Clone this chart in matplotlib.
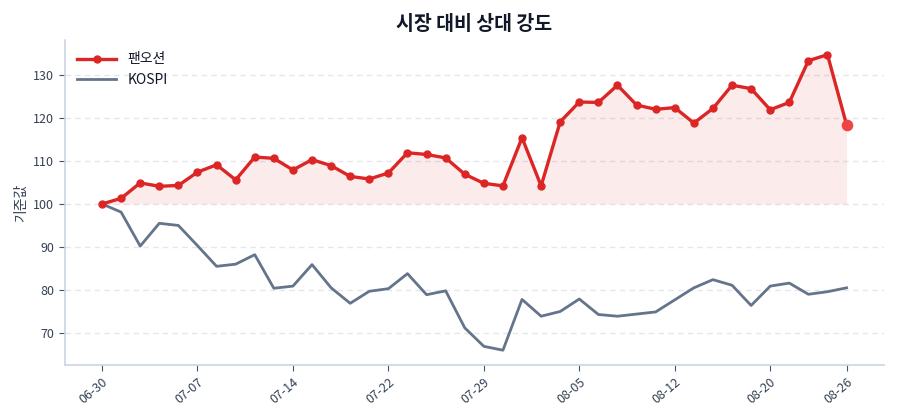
import matplotlib
matplotlib.use("Agg")
import matplotlib.pyplot as plt

plt.rcParams['font.family'] = ['Noto Sans CJK KR', 'DejaVu Sans']

dates = ["06-30", "07-01", "07-02", "07-03", "07-04",
         "07-07", "07-08", "07-09", "07-10", "07-11",
         "07-14", "07-15", "07-16", "07-17", "07-18",
         "07-22", "07-23", "07-24", "07-25", "07-28",
         "07-29", "07-30", "07-31", "08-01", "08-04",
         "08-05", "08-06", "08-07", "08-08", "08-11",
         "08-12", "08-13", "08-14", "08-18", "08-19",
         "08-20", "08-21", "08-22", "08-25", "08-26"]

pan_ocean = [100.0, 101.3, 104.9, 104.1, 104.3, 107.4, 109.1, 105.6, 110.9, 110.6,
             107.9, 110.3, 108.9, 106.4, 105.8, 107.2, 111.9, 111.5, 110.7, 106.9,
             104.8, 104.2, 115.4, 104.2, 119.1, 123.7, 123.6, 127.6, 123.0, 122.0,
             122.4, 118.8, 122.2, 127.6, 126.8, 121.9, 123.6, 133.3, 134.7, 118.4]

kospi = [100.0, 98.1, 90.2, 95.5, 95.0, 90.3, 85.5, 86.0, 88.2, 80.4,
         80.9, 85.9, 80.5, 76.9, 79.7, 80.3, 83.8, 78.9, 79.8, 71.2,
         66.9, 66.0, 77.8, 73.9, 75.0, 77.9, 74.3, 73.9, 74.4, 74.9,
         77.7, 80.5, 82.4, 81.1, 76.4, 80.9, 81.6, 79.0, 79.6, 80.5]

tick_idx = [0, 5, 10, 15, 20, 25, 30, 35, 39]

RED = "#dc2626"
SLATE = "#64748b"
TXT = "#334155"

fig = plt.figure(figsize=(9, 4.2), dpi=100)
ax = fig.add_axes([0.072, 0.131, 0.910, 0.774])

x = list(range(len(dates)))
base = pan_ocean[0]
ax.fill_between(x, base, pan_ocean, color=RED, alpha=0.09, linewidth=0)
ax.plot(x, pan_ocean, color=RED, linewidth=2.4, marker='o', markersize=5, label="팬오션", zorder=3)
ax.plot(x, kospi, color=SLATE, linewidth=2.0, label="KOSPI", zorder=2)
ax.scatter([x[-1]], [pan_ocean[-1]], s=70, color="#ef4444", zorder=4, linewidths=0)

ax.set_xticks(tick_idx)
ax.set_xticklabels([dates[i] for i in tick_idx], rotation=40, ha='right', rotation_mode='anchor')
ax.set_yticks([70, 80, 90, 100, 110, 120, 130])

ax.grid(axis='y', linestyle=(0, (4, 3)), color="#e5e7eb", linewidth=1)
ax.set_axisbelow(True)
for s in ['top', 'right']:
    ax.spines[s].set_visible(False)
for s in ['left', 'bottom']:
    ax.spines[s].set_color("#cbd5e1")
    ax.spines[s].set_linewidth(1.2)
ax.tick_params(colors=TXT, labelsize=9, length=4)
ax.tick_params(axis='both', color="#475569")

ax.set_ylabel("기준값", fontsize=10, color=TXT)
ax.set_title("시장 대비 상대 강도", fontsize=14, fontweight='bold', color="#111827", pad=7)

leg = ax.legend(loc='upper left', frameon=False, fontsize=10, handlelength=2.8)
for t in leg.get_texts():
    t.set_color("#111827")

fig.savefig("out.png", dpi=100)
